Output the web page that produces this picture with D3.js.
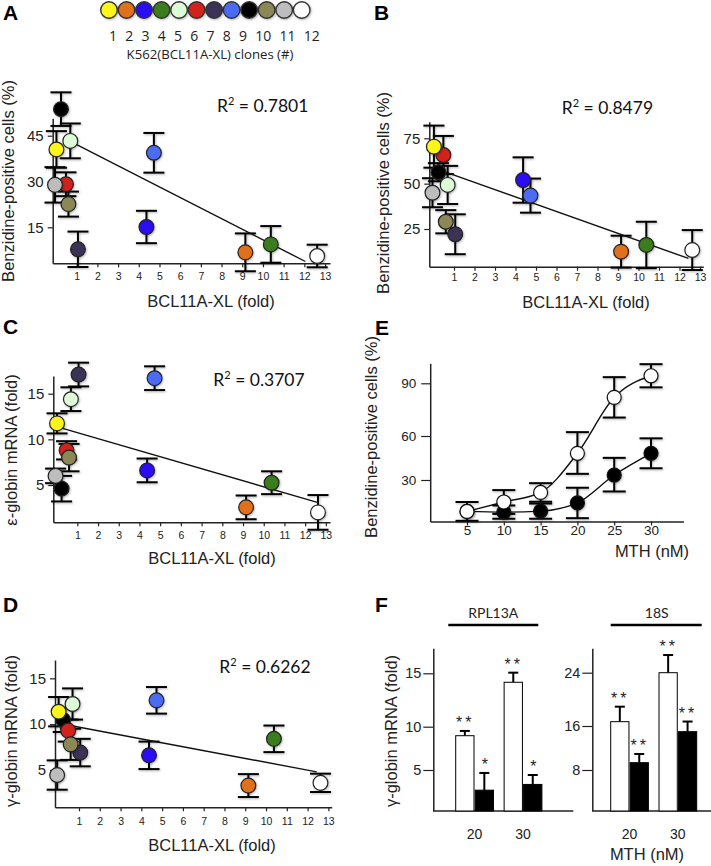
<!DOCTYPE html>
<html><head><meta charset="utf-8">
<script src="https://cdn.jsdelivr.net/npm/d3@7"></script>
<style>body{margin:0;background:#fff}</style>
</head><body>
<svg id="c" width="711" height="866" xmlns="http://www.w3.org/2000/svg"></svg>
<script>
// ---------------- DATA ----------------
const clones = [1,2,3,4,5,6,7,8,9,10,11,12];
const cloneColors = ["#fbf51c","#e0701f","#2a0cf0","#3a7c1c","#dcfbd6","#d2201c","#3b3256","#4c6cf2","#000000","#8b8757","#bdbdbd","#ffffff"];
const drawOrder = [12,2,4,3,8,9,7,6,10,1,5,11];
const bcl11aFold = [0.02, 9.15, 4.37, 10.38, 0.69, 0.48, 1.06, 4.73, 0.24, 0.6, -0.05, 12.62];

// A: benzidine-positive cells (%)
const benzA    = [40.5, 6.8, 15.1, 9.4, 43.3, 29.1, 7.8, 39.4, 53.7, 22.6, 28.9, 5.6];
const benzAErr = [6.0, 6.2, 5.3, 6.0, 5.7, 3.9, 5.8, 6.5, 5.5, 4.1, 5.8, 3.7];
const fitA = [[0.62, 43.4], [12.05, 3.8]];
// B: benzidine-positive cells (%)
const benzB    = [70.4, 12.5, 52.0, 16.2, 49.3, 65.8, 22.1, 43.4, 56.3, 29.0, 45.0, 13.4];
const benzBErr = [11.6, 8.8, 12.5, 12.8, 10.5, 10.5, 11.0, 9.4, 5.0, 6.4, 8.0, 11.0];
const fitB = [[0.15, 58.1], [12.43, 8.8]];
// C: epsilon-globin mRNA (fold)
const epsC    = [11.75, 2.55, 6.6, 5.25, 14.4, 8.8, 17.1, 16.7, 4.6, 8.0, 6.0, 2.0];
const epsCErr = [1.1, 1.3, 1.3, 1.25, 1.3, 1.0, 1.3, 1.3, 1.4, 1.5, 0.8, 1.9];
const fitC = [[0.0, 11.4], [12.63, 3.07]];
// D: gamma-globin mRNA (fold)
const gamD    = [11.36, 3.3, 6.6, 8.4, 12.2, 9.3, 6.9, 12.6, 10.45, 7.8, 4.45, 3.6];
const gamDErr = [1.6, 1.25, 1.5, 1.45, 1.7, 1.2, 1.5, 1.45, 1.3, 1.7, 1.6, 1.0];
const fitD = [[0.0, 10.1], [12.44, 4.8]];
const r2Labels = ["0.7801", "0.8479", "0.3707", "0.6262"];
const foldTicks = [1,2,3,4,5,6,7,8,9,10,11,12,13];

// E: dose response
const mthDose = [5, 10, 15, 20, 25, 30];
const benzCtrl    = [7.3, 14.1, 21.0, 48.2, 82.0, 94.3];
const benzCtrlErr = [6.8, 8.6, 6.7, 14.0, 11.5, 6.6];
const benzXL      = [7.3, 6.8, 7.5, 13.4, 33.4, 48.2];
const benzXLErr   = [0, 4.8, 5.5, 11.0, 11.7, 10.2];
const eYTicks = [30, 60, 90];

// F: gamma-globin mRNA (fold)
const mthF = ["20", "30"];
const rplCtrl = [8.96, 14.16], rplCtrlErr = [0.55, 0.9], rplCtrlSig = ["**", "**"];
const rplXL   = [2.54, 3.24],  rplXLErr   = [2.1, 1.15], rplXLSig   = ["*", "*"];
const s18Ctrl = [16.65, 24.0], s18CtrlErr = [2.25, 2.65], s18CtrlSig = ["**", "**"];
const s18XL   = [9.33, 14.97], s18XLErr   = [1.58, 1.7],  s18XLSig   = ["**", "**"];
const fLeftTicks = [5, 10, 15];
const fRightTicks = [8, 16, 24];

// ---------------- DRAWING ----------------
const svg = d3.select("#c");
const SANS = "'Liberation Sans', Arial, Helvetica, sans-serif";
const CAL = "Lato, 'Open Sans', sans-serif";
const OPEN = "'Open Sans', Lato, sans-serif";
const defs = svg.append("defs");
const f = defs.append("filter").attr("id","sh").attr("x","-30%").attr("y","-30%").attr("width","160%").attr("height","160%");
f.append("feDropShadow").attr("dx",0.8).attr("dy",1).attr("stdDeviation",0.9).attr("flood-color","#000").attr("flood-opacity",0.3);

function panelLabel(t, x, y) {
  svg.append("text").attr("x", x).attr("y", y).text(t)
    .attr("font-family", SANS).attr("font-weight", "bold").attr("font-size", 21).attr("fill", "#000");
}
function styleAxis(g, fs) {
  g.attr("font-family", SANS).attr("font-size", fs);
  g.selectAll("path.domain").attr("stroke", "#222").attr("stroke-width", 1.5);
  g.selectAll(".tick line").attr("stroke", "#222").attr("stroke-width", 1.2);
  g.selectAll(".tick text").attr("fill", "#222");
}
function yTitle(t, x, cy) {
  svg.append("text").attr("transform", `translate(${x},${cy}) rotate(-90)`)
    .attr("text-anchor", "middle").attr("font-family", SANS).attr("font-size", 16.5).attr("fill", "#222").text(t);
}
function xTitle(t, cx, y) {
  svg.append("text").attr("x", cx).attr("y", y).attr("text-anchor", "middle")
    .attr("font-family", SANS).attr("font-size", 16.5).attr("fill", "#222").text(t);
}
function r2(val, x, y) {
  const t = svg.append("text").attr("x", x).attr("y", y).attr("font-family", CAL).attr("font-size", 17.5).attr("fill", "#111");
  t.append("tspan").text("R");
  t.append("tspan").text("2").attr("font-size", 11).attr("dy", -7);
  t.append("tspan").text(" = " + val).attr("dy", 7);
}

// Legend
const lg = d3.scalePoint().domain(clones).range([109, 301.7]);
const legG = svg.append("g");
legG.selectAll("circle").data(clones).join("circle")
  .attr("cx", d => lg(d)).attr("cy", 10).attr("r", 8.3)
  .attr("fill", (d,i) => cloneColors[i]).attr("stroke", "#333").attr("stroke-width", 1.4)
  .attr("filter", "url(#sh)");
legG.append("text").attr("x", lg(clones[0])).attr("y", 41)
  .attr("font-family", OPEN).attr("font-size", 14).attr("word-spacing", 4.6).attr("fill", "#222")
  .text(clones.join(" "));
svg.append("text").attr("x", 210).attr("y", 59).attr("text-anchor", "middle")
  .attr("font-family", OPEN).attr("font-size", 13.2).attr("fill", "#222").text("K562(BCL11A-XL) clones (#)");

function scatterPanel(cfg) {
  const x = d3.scaleLinear().domain(cfg.xDom).range(cfg.xRange);
  const y = d3.scaleLinear().domain(cfg.yDom).range(cfg.yRange);
  const g = svg.append("g");
  const ax = g.append("g").attr("transform", `translate(0,${cfg.yRange[0]})`)
    .call(d3.axisBottom(x).tickValues(foldTicks).tickSize(4).tickSizeOuter(0).tickPadding(cfg.xPad).tickFormat(d3.format("d")));
  styleAxis(ax, 10.5);
  const ay = g.append("g").attr("transform", `translate(${cfg.xRange[0]},0)`)
    .call(d3.axisLeft(y).tickValues(cfg.yTicks).tickSize(5).tickSizeOuter(0).tickPadding(4));
  styleAxis(ay, 15);
  const pts = drawOrder.map(c => ({c, i: c - 1, xv: bcl11aFold[c-1], yv: cfg.vals[c-1], e: cfg.errs[c-1]}));
  const eb = g.append("g").attr("stroke", "#000").attr("stroke-width", 2).attr("filter", "url(#sh)");
  pts.forEach(p => {
    const cx = x(p.xv), y1 = y(p.yv + p.e), y0 = y(p.yv - p.e);
    eb.append("line").attr("x1", cx).attr("x2", cx).attr("y1", y1).attr("y2", y0);
    eb.append("line").attr("x1", cx - 10.5).attr("x2", cx + 10.5).attr("y1", y1).attr("y2", y1);
    eb.append("line").attr("x1", cx - 10.5).attr("x2", cx + 10.5).attr("y1", y0).attr("y2", y0);
  });
  g.append("path").datum(cfg.fit).attr("d", d3.line().x(d => x(d[0])).y(d => y(d[1])))
    .attr("stroke", "#111").attr("stroke-width", 1.4).attr("fill", "none");
  g.append("g").selectAll("circle").data(pts).join("circle")
    .attr("cx", d => x(d.xv)).attr("cy", d => y(d.yv)).attr("r", 7.4)
    .attr("fill", d => cloneColors[d.i]).attr("stroke", "#222").attr("stroke-width", 1.2)
    .attr("filter", "url(#sh)");
}

scatterPanel({xDom: [-0.16, 13.24], xRange: [52.7, 330], yDom: [3.21, 50.7], yRange: [263.3, 118.3],
  yTicks: [15, 30, 45], vals: benzA, errs: benzAErr, fit: fitA, xPad: 5});
scatterPanel({xDom: [-0.205, 13.16], xRange: [429.3, 703.3], yDom: [4.22, 84.15], yRange: [266.7, 121.7],
  yTicks: [25, 50, 75], vals: benzB, errs: benzBErr, fit: fitB, xPad: 3});
scatterPanel({xDom: [-0.16, 13.2], xRange: [53.3, 330], yDom: [0.915, 16.94], yRange: [522.3, 376],
  yTicks: [5, 10, 15], vals: epsC, errs: epsCErr, fit: fitC, xPad: 5});
scatterPanel({xDom: [-0.154, 13.16], xRange: [55, 331.7], yDom: [0.93, 17.0], yRange: [807.3, 660],
  yTicks: [5, 10, 15], vals: gamD, errs: gamDErr, fit: fitD, xPad: 6});

panelLabel("A", 3, 20); panelLabel("B", 374, 20); panelLabel("C", 3, 334); panelLabel("D", 3, 612);
panelLabel("E", 375, 335); panelLabel("F", 375, 612);

r2(r2Labels[0], 217, 112);
r2(r2Labels[1], 561.7, 113.5);
r2(r2Labels[2], 213.3, 386);
r2(r2Labels[3], 219.3, 673);

yTitle("Benzidine-positive cells (%)", 14, 181);
yTitle("Benzidine-positive cells (%)", 389, 193);
yTitle("\u03b5-globin mRNA (fold)", 17, 450);
yTitle("\u03b3-globin mRNA (fold)", 17, 731);
xTitle("BCL11A-XL (fold)", 211, 307);
xTitle("BCL11A-XL (fold)", 586, 308);
xTitle("BCL11A-XL (fold)", 212, 564);
xTitle("BCL11A-XL (fold)", 212, 851);

// ---- Panel E ----
(function(){
  const x = d3.scaleLinear().domain([0, 34.4]).range([430.2, 683.4]);
  const y = d3.scaleLinear().domain([0, 30, 60, 90, 101.4]).range([521.5, 480, 436, 383.3, 363.3]);
  const g = svg.append("g");
  const ax = g.append("g").attr("transform", "translate(0,521.5)")
    .call(d3.axisBottom(x).tickValues(mthDose).tickSize(4).tickSizeOuter(0).tickPadding(0));
  styleAxis(ax, 13.5);
  const ay = g.append("g").attr("transform", "translate(430.2,0)")
    .call(d3.axisLeft(y).tickValues(eYTicks).tickSize(9).tickSizeOuter(0).tickPadding(5));
  styleAxis(ay, 13.5);
  const series = [
    {v: benzXL, e: benzXLErr, fill: "#000"},
    {v: benzCtrl, e: benzCtrlErr, fill: "#fff"}
  ];
  const line = d3.line().curve(d3.curveMonotoneX).x((d,i) => x(mthDose[i])).y(d => y(d));
  series.forEach(s => {
    g.append("path").datum(s.v).attr("d", line).attr("fill", "none").attr("stroke", "#111").attr("stroke-width", 1.4);
  });
  series.forEach(s => {
    const eb = g.append("g").attr("stroke", "#000").attr("stroke-width", 2).attr("filter", "url(#sh)");
    s.v.forEach((v, i) => {
      if (!s.e[i]) return;
      const cx = x(mthDose[i]), y1 = y(v + s.e[i]), y0 = y(v - s.e[i]);
      eb.append("line").attr("x1", cx).attr("x2", cx).attr("y1", y1).attr("y2", y0);
      eb.append("line").attr("x1", cx - 11.5).attr("x2", cx + 11.5).attr("y1", y1).attr("y2", y1);
      eb.append("line").attr("x1", cx - 11.5).attr("x2", cx + 11.5).attr("y1", y0).attr("y2", y0);
    });
  });
  series.forEach(s => {
    g.append("g").selectAll("circle").data(s.v).join("circle")
      .attr("cx", (d,i) => x(mthDose[i])).attr("cy", d => y(d)).attr("r", 7)
      .attr("fill", s.fill).attr("stroke", "#111").attr("stroke-width", 1.2).attr("filter", "url(#sh)");
  });
  yTitle("Benzidine-positive cells (%)", 377, 437);
  xTitle("MTH (nM)", 652, 557);
})();

// ---- Panel F ----
function barPanel(cfg) {
  const y = d3.scaleLinear().domain(cfg.yDom).range(cfg.yRange);
  const gx = d3.scaleBand().domain(mthF).range(cfg.groupRange).paddingInner(0.22);
  const sx = d3.scaleBand().domain(["ctrl", "xl"]).range([0, gx.bandwidth()]).paddingInner(0.06);
  const g = svg.append("g");
  const base = cfg.yRange[0];
  g.append("line").attr("x1", cfg.axisX).attr("x2", cfg.axisEnd).attr("y1", base).attr("y2", base)
    .attr("stroke", "#222").attr("stroke-width", 1.5);
  const ay = g.append("g").attr("transform", `translate(${cfg.axisX},0)`)
    .call(d3.axisLeft(y).tickValues(cfg.ticks).tickSize(10).tickSizeOuter(0).tickPadding(2));
  styleAxis(ay, 14.5);
  const ax = g.append("g").attr("transform", `translate(0,${base})`)
    .call(d3.axisBottom(gx).tickSize(0).tickPadding(18));
  styleAxis(ax, 14);
  ax.select("path.domain").remove();
  const sets = [
    {k: "ctrl", v: cfg.ctrl, e: cfg.ctrlErr, s: cfg.ctrlSig, fill: "#fff"},
    {k: "xl", v: cfg.xl, e: cfg.xlErr, s: cfg.xlSig, fill: "#000"}
  ];
  sets.forEach(st => {
    st.v.forEach((v, i) => {
      const x0 = gx(mthF[i]) + sx(st.k), w = sx.bandwidth(), cx = x0 + w / 2;
      const top = y(v), et = y(v + st.e[i]);
      g.append("line").attr("x1", cx).attr("x2", cx).attr("y1", top).attr("y2", et).attr("stroke", "#000").attr("stroke-width", 2);
      g.append("line").attr("x1", cx - 5).attr("x2", cx + 5).attr("y1", et).attr("y2", et).attr("stroke", "#000").attr("stroke-width", 2);
      g.append("rect").attr("x", x0).attr("y", top).attr("width", w).attr("height", base - top)
        .attr("fill", st.fill).attr("stroke", "#000").attr("stroke-width", 1);
      g.append("text").attr("x", cx + 0.5).attr("y", et - 3).attr("text-anchor", "middle")
        .attr("font-family", SANS).attr("font-size", 16).attr("letter-spacing", st.s[i].length > 1 ? 3 : 0)
        .attr("fill", "#222").text(st.s[i]);
    });
  });
  svg.append("text").attr("x", cfg.hdrX).attr("y", 618).attr("text-anchor", "middle")
    .attr("font-family", CAL).attr("font-size", 14).attr("fill", "#222").text(cfg.hdr);
  svg.append("line").attr("x1", cfg.hdrLine[0]).attr("x2", cfg.hdrLine[1]).attr("y1", 625).attr("y2", 625)
    .attr("stroke", "#000").attr("stroke-width", 2.6);
}
barPanel({yDom: [0, 5, 10, 15, 17.34], yRange: [811, 770, 726.7, 673.3, 648.3], groupRange: [455.7, 541.9],
  axisX: 433.3, axisEnd: 573.3, ticks: fLeftTicks, ctrl: rplCtrl, ctrlErr: rplCtrlErr, ctrlSig: rplCtrlSig,
  xl: rplXL, xlErr: rplXLErr, xlSig: rplXLSig, hdr: "RPL13A", hdrX: 493.3, hdrLine: [448.3, 538.3]});
barPanel({yDom: [0, 8, 16, 24, 27.66], yRange: [811, 770, 726, 672.7, 648.3], groupRange: [610.7, 696.7],
  axisX: 592.3, axisEnd: 711, ticks: fRightTicks, ctrl: s18Ctrl, ctrlErr: s18CtrlErr, ctrlSig: s18CtrlSig,
  xl: s18XL, xlErr: s18XLErr, xlSig: s18XLSig, hdr: "18S", hdrX: 656.7, hdrLine: [610.7, 701.7]});
yTitle("\u03b3-globin mRNA (fold)", 397, 731);
xTitle("MTH (nM)", 647, 860);
</script>
</body></html>
